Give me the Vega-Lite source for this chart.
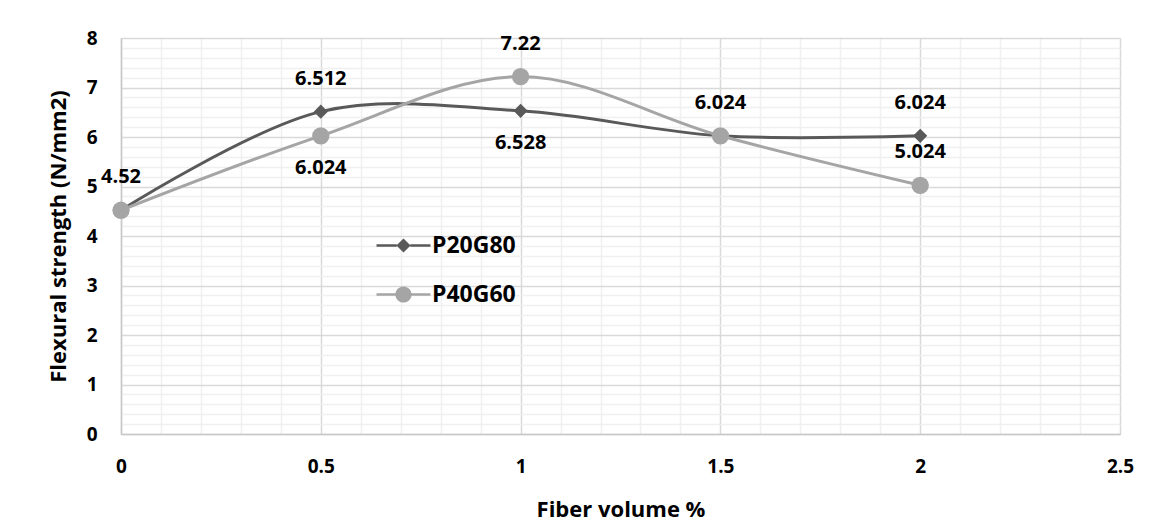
{
  "$schema": "https://vega.github.io/schema/vega-lite/v6.json",
  "autosize": {"type": "none"},
  "width": 999,
  "height": 396,
  "padding": {"left": 121, "top": 38, "right": 37, "bottom": 88},
  "background": "white",
  "config": {
    "view": {"stroke": null},
    "font": "Open Sans",
    "axis": {"labelFont": "Open Sans", "titleFont": "Open Sans", "labelFontWeight": "bold", "titleFontWeight": "bold", "labelColor": "#000", "titleColor": "#000"},
    "legend": {"labelFont": "Open Sans"}
  },
  "data": {
    "values": [
      {"x": 0, "v": 4.52, "series": "P20G80"},
      {"x": 0.5, "v": 6.512, "series": "P20G80"},
      {"x": 1, "v": 6.528, "series": "P20G80"},
      {"x": 1.5, "v": 6.024, "series": "P20G80"},
      {"x": 2, "v": 6.024, "series": "P20G80"},
      {"x": 0, "v": 4.52, "series": "P40G60"},
      {"x": 0.5, "v": 6.024, "series": "P40G60"},
      {"x": 1, "v": 7.22, "series": "P40G60"},
      {"x": 1.5, "v": 6.024, "series": "P40G60"},
      {"x": 2, "v": 5.024, "series": "P40G60"}
    ]
  },
  "encoding": {
    "x": {
      "field": "x", "type": "quantitative",
      "scale": {"domain": [0, 2.5], "nice": false, "zero": false},
      "axis": {
        "title": "Fiber volume %",
        "values": [0,0.1,0.2,0.3,0.4,0.5,0.6,0.7,0.8,0.9,1,1.1,1.2,1.3,1.4,1.5,1.6,1.7,1.8,1.9,2,2.1,2.2,2.3,2.4,2.5],
        "labelExpr": "abs(datum.value*2 - round(datum.value*2)) < 1e-6 ? format(datum.value, '') : ''",
        "labelOverlap": false,
        "labelFlush": false,
        "labelFontSize": 19,
        "labelPadding": 23,
        "labelBaseline": "top",
        "ticks": false,
        "tickSize": 0,
        "domainColor": "#C8C8C8",
        "domainWidth": 1.5,
        "grid": true,
        "gridWidth": 1.5,
        "gridColor": {"condition": {"test": "abs(datum.value*2 - round(datum.value*2)) < 1e-6", "value": "#D9D9D9"}, "value": "#F0F0F0"},
        "titleFontSize": 22,
        "titlePadding": 23
      }
    },
    "y": {
      "field": "v", "type": "quantitative",
      "scale": {"domain": [0, 8], "nice": false},
      "axis": {
        "title": "Flexural strength (N/mm2)",
        "values": [0,0.2,0.4,0.6,0.8,1,1.2,1.4,1.6,1.8,2,2.2,2.4,2.6,2.8,3,3.2,3.4,3.6,3.8,4,4.2,4.4,4.6,4.8,5,5.2,5.4,5.6,5.8,6,6.2,6.4,6.6,6.8,7,7.2,7.4,7.6,7.8,8],
        "labelExpr": "abs(datum.value - round(datum.value)) < 1e-6 ? format(datum.value, 'd') : ''",
        "labelOverlap": false,
        "labelFlush": false,
        "labelFontSize": 19,
        "labelPadding": 24,
        "ticks": false,
        "tickSize": 0,
        "domainColor": "#C8C8C8",
        "domainWidth": 1.5,
        "grid": true,
        "gridWidth": 1.5,
        "gridColor": {"condition": {"test": "abs(datum.value - round(datum.value)) < 1e-6", "value": "#D9D9D9"}, "value": "#F0F0F0"},
        "titleFontSize": 22,
        "titlePadding": 16
      }
    },
    "color": {
      "field": "series", "type": "nominal",
      "scale": {"domain": ["P20G80", "P40G60"], "range": ["#595959", "#A5A5A5"]},
      "legend": {
        "title": null,
        "orient": "none",
        "legendX": 271,
        "legendY": 196,
        "labelFontSize": 23,
        "labelFontWeight": "bold",
        "labelColor": "#000",
        "labelOffset": 17,
        "symbolSize": 182,
        "symbolOpacity": 1,
        "symbolStrokeWidth": 0,
        "rowPadding": 25,
        "padding": 0,
        "encode": {
          "symbols": {
            "update": {
              "fill": {"scale": "color", "field": "value"},
              "fillOpacity": {"value": 1},
              "opacity": {"value": 1}
            }
          }
        }
      }
    }
  },
  "layer": [
    {
      "mark": {"type": "line", "interpolate": "catmull-rom", "strokeWidth": 3},
      "encoding": {}
    },
    {
      "transform": [{"filter": "datum.series === 'P20G80'"}],
      "mark": {"type": "point", "shape": "diamond", "filled": true, "size": 200, "opacity": 1}
    },
    {
      "transform": [{"filter": "datum.series === 'P40G60'"}],
      "mark": {"type": "point", "shape": "circle", "filled": true, "size": 300, "opacity": 1}
    },
    {
      "mark": {"type": "point", "filled": true, "opacity": 0, "size": 182},
      "encoding": {
        "shape": {
          "field": "series", "type": "nominal",
          "scale": {"domain": ["P20G80", "P40G60"], "range": [
            "M-4,-0.2H-1V0.2H-4Z M1,-0.2H4V0.2H1Z M0,-1.05L1.05,0L0,1.05L-1.05,0Z",
            "M-4,-0.2H-1.15V0.2H-4Z M1.15,-0.2H4V0.2H1.15Z M-1.2,0A1.2,1.2 0 1,1 1.2,0A1.2,1.2 0 1,1 -1.2,0Z"
          ]}
        }
      }
    },
    {
      "transform": [{"filter": "(datum.series === 'P20G80' && datum.x !== 1) || (datum.series === 'P40G60' && (datum.x === 1 || datum.x === 2))"}],
      "mark": {"type": "text", "dy": -33, "fontSize": 20, "fontWeight": "bold", "font": "Open Sans", "baseline": "middle", "align": "center", "color": "#000"},
      "encoding": {"text": {"field": "v", "type": "quantitative"}, "color": {"value": "#000"}}
    },
    {
      "transform": [{"filter": "(datum.series === 'P20G80' && datum.x === 1) || (datum.series === 'P40G60' && datum.x === 0.5)"}],
      "mark": {"type": "text", "dy": 32, "fontSize": 20, "fontWeight": "bold", "font": "Open Sans", "baseline": "middle", "align": "center", "color": "#000"},
      "encoding": {"text": {"field": "v", "type": "quantitative"}, "color": {"value": "#000"}}
    }
  ]
}
